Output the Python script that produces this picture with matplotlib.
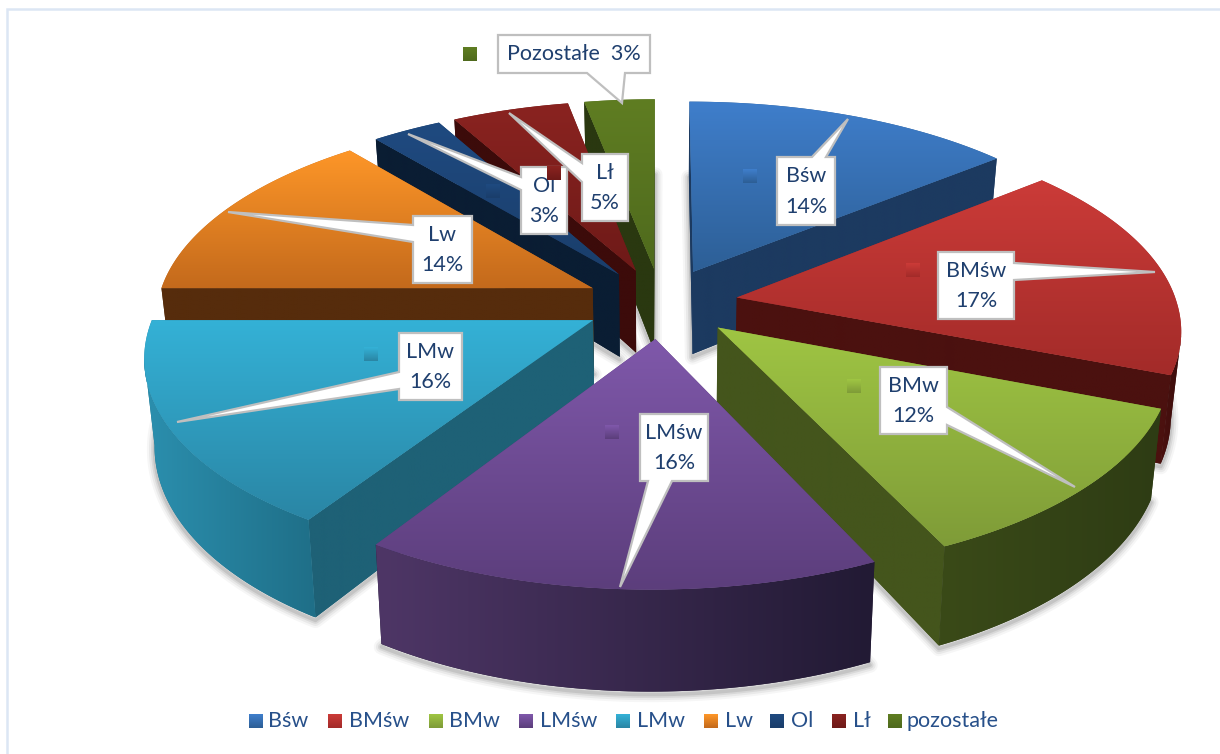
import numpy as np
import matplotlib
matplotlib.use("Agg")
import matplotlib.pyplot as plt
from matplotlib.patches import Polygon, Rectangle
from matplotlib.colors import to_rgb

categories = ["Bśw", "BMśw", "BMw", "LMśw", "LMw", "Lw", "Ol", "Lł", "pozostałe"]
shares = [14, 17, 12, 16, 16, 14, 3, 5, 3]
callout_names = ["Bśw", "BMśw", "BMw", "LMśw", "LMw", "Lw", "Ol", "Lł", "Pozostałe"]
top_light = ["#3f7ecb", "#cb3b38", "#9fc543", "#7f58aa", "#34b1d6", "#fd9628", "#1f4a80", "#8a2320", "#5f7d22"]
top_dark = ["#2d5f96", "#a32b29", "#7f9c38", "#5c3e7c", "#2a86a5", "#c46a1c", "#1a3e6b", "#6e1a18", "#4f6a1d"]
wall_side = ["#1c3a60", "#4b110f", "#44551c", "#4e3666", "#1e6176", "#562c0c", "#0a1d33", "#3c0b0a", "#2a3810"]
wall_out_a = ["#1c3a60", "#4b110f", "#3a4a18", "#4e3666", "#2b8fae", "#562c0c", "#0a1d33", "#3c0b0a", "#2a3810"]
wall_out_b = ["#1c3a60", "#3a0d0c", "#2e3c14", "#221a34", "#1f6f88", "#562c0c", "#0a1d33", "#3c0b0a", "#2a3810"]
paint_order = [8, 7, 6, 0, 5, 1, 4, 2, 3]

W, H = 1220, 754
CX, CY, RX, RY = 661, 303, 440, 201
EXPLODE, K_BACK, K_FRONT, DEPTH, SHRINK, DRIFT, LEFT_SCALE = 0.175, 0.135, 0.15, 84, 0.02, 4, 0.99
NAVY = "#1f3f6e"
FONT = ["Lato", "DejaVu Sans"]

fig = plt.figure(figsize=(W / 100, H / 100), dpi=100)
ax = fig.add_axes([0, 0, 1, 1])
ax.set_xlim(0, W)
ax.set_ylim(H, 0)
ax.axis("off")
zc = [10.0]


def nz():
    zc[0] += 0.01
    return zc[0]


def project(X, Y, z):
    X = np.asarray(X, dtype=float)
    Y = np.asarray(Y, dtype=float)
    s = 1 / (1 + np.where(Y > 0, K_BACK, K_FRONT) * Y)
    x = CX + RX * X * np.where(X < 0, LEFT_SCALE, 1.0) * s * (1 - SHRINK * z) - DRIFT * np.maximum(-Y, 0)
    y = CY - RY * Y * s + DEPTH * z * s
    return np.column_stack([np.atleast_1d(x), np.atleast_1d(y)])


def paint(pts, c0, c1, vertical=True):
    pts = np.asarray(pts)
    poly = Polygon(pts, closed=True, facecolor=c1, edgecolor="none", zorder=nz())
    ax.add_patch(poly)
    t = np.linspace(0, 1, 64)
    a, b = np.array(to_rgb(c0)), np.array(to_rgb(c1))
    grad = a[None, :] * (1 - t[:, None]) + b[None, :] * t[:, None]
    img = grad[:, None, :] if vertical else grad[None, :, :]
    x0, x1, y0, y1 = pts[:, 0].min(), pts[:, 0].max(), pts[:, 1].min(), pts[:, 1].max()
    im = ax.imshow(img, extent=[x0, x1, y1, y0], aspect="auto", zorder=nz(), interpolation="bilinear")
    im.set_clip_path(poly)


def faces_camera(nx, ny, px, py):
    return nx * (0 - px) + ny * (-1 / K_FRONT - py) > 0


def draw_slice(i, a, b):
    mid = (a + b) / 2
    ox, oy = EXPLODE * np.sin(mid), EXPLODE * np.cos(mid)
    th = np.linspace(a, b, 80)
    ax_, ay_ = ox + np.sin(th), oy + np.cos(th)
    top_arc, bot_arc = project(ax_, ay_, 0), project(ax_, ay_, 1)
    apex_t, apex_b = project(ox, oy, 0), project(ox, oy, 1)
    # soft shadow around the foot of the slice
    foot = np.vstack([apex_b, bot_arc]) + [0, 3]
    for lw, al in ((11, 0.035), (8, 0.05), (5, 0.07), (2.5, 0.09)):
        ax.add_patch(Polygon(foot, closed=True, facecolor="none", edgecolor="#000000",
                             linewidth=lw, alpha=al, zorder=nz(), joinstyle="round"))
    # radial walls
    for ang, sgn, k in ((a, -1, 0), (b, 1, -1)):
        nx, ny = np.sin(ang + sgn * np.pi / 2), np.cos(ang + sgn * np.pi / 2)
        if faces_camera(nx, ny, ox, oy):
            wall = np.vstack([apex_t, top_arc[k], bot_arc[k], apex_b])
            paint(wall, wall_side[i], wall_side[i], vertical=False)
    # outer wall
    vis = np.array([faces_camera(np.sin(t), np.cos(t), ox + np.sin(t), oy + np.cos(t)) for t in th])
    vis &= np.cos(th) < 0.02
    if vis.sum() > 1:
        wall = np.vstack([top_arc[vis], bot_arc[vis][::-1]])
        paint(wall, wall_out_a[i], wall_out_b[i], vertical=False)
    # top
    paint(np.vstack([apex_t, top_arc]), top_light[i], top_dark[i], vertical=True)


fracs = np.array(shares, dtype=float) / sum(shares)
edges = np.concatenate([[0], np.cumsum(fracs)]) * 2 * np.pi
for i in paint_order:
    draw_slice(i, edges[i], edges[i + 1])

# frame fragments of the chart area
ax.plot([7, 7, W], [H, 9, 9], color="#dce6f4", lw=1.8, zorder=1, solid_joinstyle="miter")


def swatch(x, y, size, i, z=30):
    r = Rectangle((x, y), size, size, facecolor=top_dark[i], edgecolor="none", zorder=z)
    ax.add_patch(r)
    t = np.linspace(0, 1, 16)
    a, b = np.array(to_rgb(top_light[i])), np.array(to_rgb(top_dark[i]))
    g = (a[None, :] * (1 - t[:, None]) + b[None, :] * t[:, None])[:, None, :]
    im = ax.imshow(g, extent=[x, x + size, y + size, y], aspect="auto", zorder=z + 0.01)
    im.set_clip_path(r)


def callout(box, side, base, tip, lines):
    x0, y0, x1, y1 = box
    b0, b1 = base
    if side == "left":
        pts = [(x0, y0), (x1, y0), (x1, y1), (x0, y1), (x0, b1), tip, (x0, b0)]
    elif side == "right":
        pts = [(x0, y0), (x1, y0), (x1, b0), tip, (x1, b1), (x1, y1), (x0, y1)]
    elif side == "top":
        pts = [(x0, y0), (b0, y0), tip, (b1, y0), (x1, y0), (x1, y1), (x0, y1)]
    else:
        pts = [(x0, y0), (x1, y0), (x1, y1), (b1, y1), tip, (b0, y1), (x0, y1)]
    ax.add_patch(Polygon(pts, closed=True, facecolor="white", edgecolor="#bfbfbf", lw=1.6, zorder=25,
                         joinstyle="miter"))
    xm, ym = (x0 + x1) / 2, (y0 + y1) / 2
    ax.text(xm, ym + 0.5, lines, ha="center", va="center", fontsize=15.5, color=NAVY, family=FONT,
            linespacing=1.65, zorder=26)


def label(i):
    return f"{callout_names[i]}\n{shares[i]}%"


callout((777, 157, 835, 225), "top", (812, 826), (848, 119), label(0))
callout((938, 252, 1014, 319), "right", (263, 280), (1155, 272), label(1))
callout((880, 367, 947, 434), "right", (407, 425), (1075, 487), label(2))
callout((640, 414, 708, 481), "bottom", (648, 672), (620, 587), label(3))
callout((399, 333, 462, 400), "left", (372, 389), (177, 422), label(4))
callout((413, 216, 472, 283), "left", (225, 242), (228, 212), label(5))
callout((521, 167, 567, 234), "left", (177, 190), (408, 134), label(6))
callout((582, 154, 628, 221), "left", (163, 182), (509, 113), label(7))
callout((498, 35, 650, 73), "bottom", (587, 625), (622, 103),
        f"{callout_names[8]}  {shares[8]}%")

for i, (x, y) in zip([0, 1, 2, 3, 4, 6, 7, 8],
                     [(743, 169), (906, 263), (847, 379), (605, 425), (364, 347), (486, 184), (547, 166), (463, 47)]):
    swatch(x, y, 14, i)

# legend row
leg_sw = [249, 328, 429, 519, 616, 704, 770, 832, 888]
leg_tx = [268, 349, 449, 540, 637, 725, 791, 853, 906]
for i, name in enumerate(categories):
    swatch(leg_sw[i], 714, 14, i)
    ax.text(leg_tx[i], 721, name, ha="left", va="center", fontsize=15.5, color="#27508a", family=FONT, zorder=30)

ax.set_xlim(0, W)
ax.set_ylim(H, 0)
fig.savefig("out.png", dpi=100, facecolor="white")
